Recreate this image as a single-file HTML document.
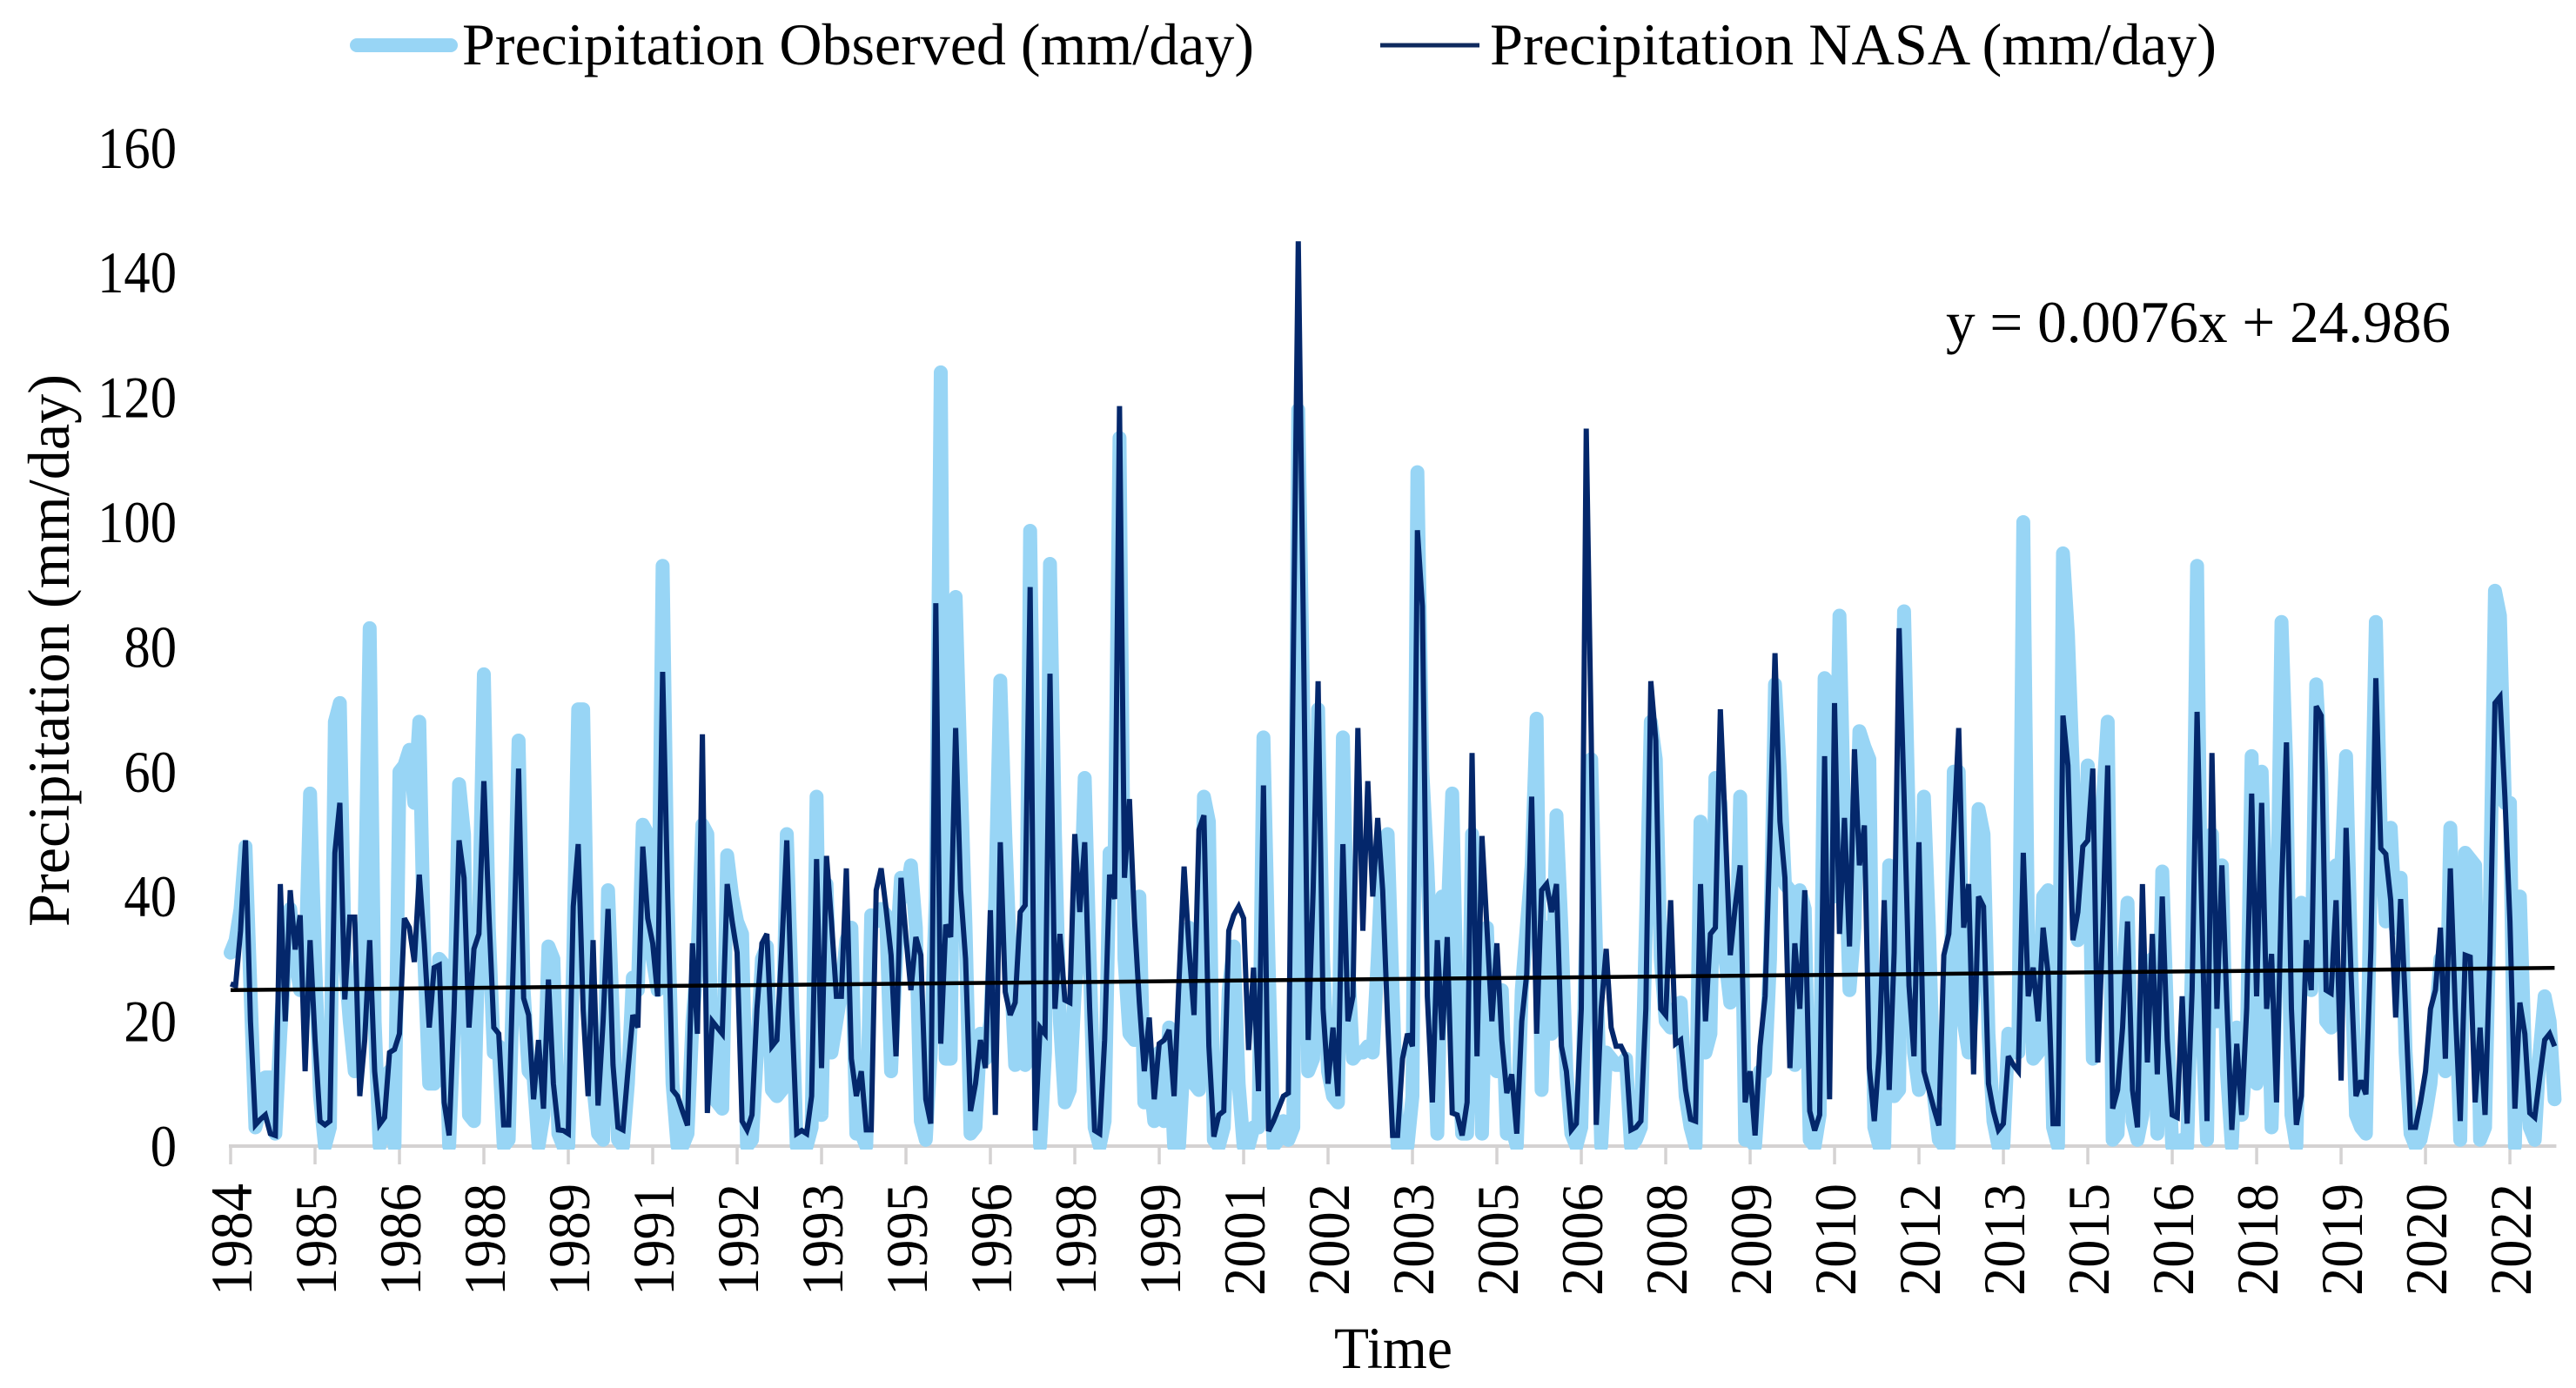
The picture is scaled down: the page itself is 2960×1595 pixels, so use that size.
<!DOCTYPE html>
<html lang="en">
<head>
<meta charset="utf-8">
<title>Precipitation Observed vs NASA</title>
<style>
html,body{margin:0;padding:0;background:#fff;}
svg{display:block;}
text{font-family:"Liberation Serif",serif;fill:#000;}
</style>
</head>
<body>
<svg id="chart" xmlns="http://www.w3.org/2000/svg" width="2960" height="1595" viewBox="0 0 2960 1595">
  <defs>
    <clipPath id="plot-clip"><rect x="200" y="60" width="2760" height="1261"></rect></clipPath>
  </defs>
  <g id="axes"></g>
  <g id="series" clip-path="url(#plot-clip)"></g>
  <g>
    <line x1="410" y1="52" x2="518" y2="52" stroke="#98d5f5" stroke-width="16" stroke-linecap="round"></line>
    <text x="531" y="74" font-size="68" textLength="910" lengthAdjust="spacingAndGlyphs">Precipitation Observed (mm/day)</text>
    <line x1="1586" y1="52" x2="1700" y2="52" stroke="#0f2a5e" stroke-width="5"></line>
    <text x="1712" y="74" font-size="68" textLength="835" lengthAdjust="spacingAndGlyphs">Precipitation NASA (mm/day)</text>
  </g>
  <text x="2236" y="393" font-size="68" textLength="580" lengthAdjust="spacingAndGlyphs">y = 0.0076x + 24.986</text>
  <text x="1533" y="1572" font-size="68" textLength="136" lengthAdjust="spacingAndGlyphs">Time</text>
  <text transform="translate(79,1065) rotate(-90)" x="0" y="0" font-size="68" textLength="635" lengthAdjust="spacingAndGlyphs">Precipitation (mm/day)</text>
</svg>
<script>
var observedValues = [
31,33,38,48,25,3,6,11,11,2,
18,30,38,30,25,27,56.5,30,8,0,
3,68,71,30,20,12,30,36,83,20,
0,3,12,0,60,61,63.5,55,68,30,
10,10,30,29,0,20,58,50,5,4,
35,75.6,35,15,16,0,1,30,65,25,
12,11,0,5,32,30,2,0,0,30,
70,70,25,10,2,1,41,20,1,0,
10,27,25,51.5,50,30,25,93,40,10,
0,0,2,20,30,51.5,50,8,7,6,
46.6,40,36,34,0,1,15,30,32,9,
8,9,50,25,0,0,0,3,56,5,
42,15,20,25,33,35,2,2,0,37,
36,38,37,12,30,43,40,45,35,4,
1,15,40,124,14,14,88,60,35,2,
3,18,14,20,40,74.6,50,30,13,15,
13,98.6,45,0,15,93.3,50,20,7,9,
25,35,59,30,3,0,4,47,45,113.5,
30,18,17,40,7,12,4,15,4,19,
0,0,15,35,10,9,56,52,1,0,
3,25,32,10,0,0,3,3,65.5,30,
0,1,4,1,3,118,70,12,14,70,
30,12,8,7,65.5,30,14,15,15,16,
15,30,48,50,25,0,0,0,8,108,
60,45,25,2,40,35,56.5,20,2,2,
50,30,2,35,13,12,25,2,3,0,
25,35,45,68.5,9,35,18,53,35,12,
2,0,3,35,62,30,0,15,14,13,
13,14,0,1,3,35,68,62,30,20,
19,22,23,8,3,0,52,15,18,59,
55,30,23,24,56,1,1,0,12,12,
30,74,60,42,41,13,41,38,1,0,
5,75,74,40,85,50,25,35,66.5,64,
62,3,0,0,45,8,9,85.7,50,15,
9,56,35,8,1,0,0,60,60,20,
15,25,54,50,18,4,0,0,18,15,
15,100,30,14,15,40,41,3,0,95,
82,60,33,35,61,14,40,55,68,1,
2,25,39,4,1,5,25,30,2,44,
20,0,0,1,0,30,93,20,1,50,
20,45,12,0,19,5,15,62.5,10,60,
35,3,30,84,60,5,0,39,35,25,
74,60,20,19,45,44,62.5,30,5,3,
2,45,84,50,36,51,35,43,15,2,
0,1,5,10,20,30,12,51,25,1,
47,46,45,1,3,40,89,85,55,55,
0,40,15,3,1,15,24,20,7.5
];
var nasaValues = [
26,25.7,34.5,49,20,3.4,4.3,5,2,1.7,
42,20,41,31.5,37,12,33,17,4,3.4,
4,47,55,23.5,36.7,36.7,8,17,33,12,
3.5,4.6,15,15.5,18,36.5,35,29.5,43.5,32.5,
19,28.6,29,7,1.7,22,49,43,19,31.6,
34,58.5,37.5,19,18,3.4,3.4,31.6,60.5,23.7,
21,7.5,17,6,26.7,10,2.6,2.5,2,38.4,
48.4,21.8,8,33,6.5,20,38,13,3,2.6,
12,21,19,48,36.5,32.5,24,76,41,9,
8,5.6,3.3,32.5,18,66,5.3,20,19,18,
42,36,31,4,2.6,5,22,32.5,34,16,
17,32,49,22,2,2.5,2,8,46,12.5,
46.5,36,24,24,44.5,14,8,12,2.6,2.6,
41,44.5,38,30.6,14.4,43,33.5,25,33.5,30.6,
7.5,3.6,87,16.4,35.5,33.5,67,41,30,
5.6,10,17,12.5,37.8,5,48.7,24.7,21,23,
37.5,38.6,89.6,2.5,19,18,75.7,22,34,23.4,
23,50,37.5,48.7,22,2.5,2,17,43.5,39.6,
118.6,43,55.6,36.5,23,12,20.6,7.5,16.4,17,
18.6,8,26.7,44.8,31.6,21,50.7,53,16,1.5,
5,5.6,34.5,37,38.4,36.5,15.4,28.6,8.8,57.8,
2.4,4,6,8,8.5,78,145,85,17,41,
74.5,22,10,19,8,48.4,20,24,67,34.5,
58.5,40,52.6,41,20,1.7,1.7,14,18,16,
98.7,86.5,24,7,33,17,33.5,5.3,5,1.7,
7,63,14.4,49.7,35,20,32.5,17,8.5,11.5,
2,20,27.6,56,18,41,42,37.5,42,16,
12,2.6,3.6,22,115,66,3.4,22,31.6,19,
16,16,14.4,2.6,3,4,22,74.5,65,22,
21,39.4,16.4,17,9,4.3,4,42,20,34,
35,70,51,30.6,38.4,45,7,12,1.7,16,
24,50,79,52,43,12.5,32.5,22,41,5.6,
2.5,5,62.5,7.5,71,34,52.6,32,63.6,45,
51.4,12.5,4,15,39.4,9,31,83,56,25.7,
14.4,48.7,12,9,6,3.3,30.6,34,50,67,35,
42,11.5,40,38.4,10,5.6,2.6,3.6,14.4,13,
12,47,24,28.6,20,35,27.6,3.6,3.6,69,
61,33,37.5,48,49,60.5,13.4,35,61,6,
9,19,36,9,3,42,13.4,34,11.5,40,
17,5,4.6,24,3.6,25,69.6,36,4,63,
22,45,23,2.6,16.4,5,22,56.5,24,55,
22,30.8,7,41,64.7,22,3.4,8,33,25,
70.5,69,25,24.5,39.4,10.5,51,27.6,8,10.5,
8.3,31.6,75,47.7,46.8,39.4,20.6,39.6,22,3,
3,7,12,22,25,35,14,44.5,22,4,
30.6,30.3,7,19,5,31,71,72,56,36,
6,23,18,5.3,4.6,11,17,18,16
];
var xTickLabels = ["1984","1985","1986","1988","1989","1991","1992","1993","1995","1996","1998","1999","2001","2002","2003","2005","2006","2008","2009","2010","2012","2013","2015","2016","2018","2019","2020","2022"];
var yTickValues = [0,20,40,60,80,100,120,140,160];
var trendSlope = [0.0076];
var trendIntercept = [24.986];
var monthsPerTick = 17;

var NS = "http://www.w3.org/2000/svg";
var axesGroup = document.getElementById("axes");
var seriesGroup = document.getElementById("series");
var plotLeft = 265, monthWidth = 5.706, plotBottom = 1317, unitHeight = 7.17;

function xScale(i){ return plotLeft + i * monthWidth; }
function yScale(v){ return plotBottom - v * unitHeight; }
function toPoints(values){
  return values.map(function(v,i){ return xScale(i).toFixed(1) + "," + yScale(v).toFixed(1); }).join(" ");
}

var lastIndex = Math.max(observedValues.length, nasaValues.length) - 1;

var axisLine = document.createElementNS(NS,"line");


axisLine.setAttribute("x1", xScale(0) - 2);
axisLine.setAttribute("x2", xScale(lastIndex) + 2);
axisLine.setAttribute("y1", plotBottom);
axisLine.setAttribute("y2", plotBottom);
axisLine.setAttribute("stroke", "#d4d2d2");
axisLine.setAttribute("stroke-width", "4");
axesGroup.appendChild(axisLine);

xTickLabels.forEach(function(label,i){
  var tx = xScale(i * monthsPerTick);
  var tick = document.createElementNS(NS,"line");
  
  
  tick.setAttribute("x1", tx);
  tick.setAttribute("x2", tx);
  tick.setAttribute("y1", plotBottom);
  tick.setAttribute("y2", 1338);
  tick.setAttribute("stroke", "#d4d2d2");
  tick.setAttribute("stroke-width", "3.5");
  axesGroup.appendChild(tick);
  var text = document.createElementNS(NS,"text");
  
  
  text.setAttribute("transform", "translate(" + (tx + 24) + ",1489) rotate(-90)");
  text.setAttribute("font-size", "68");
  text.setAttribute("textLength", "129");
  text.setAttribute("lengthAdjust", "spacingAndGlyphs");
  text.textContent = label;
  axesGroup.appendChild(text);
});

yTickValues.forEach(function(v){
  var text = document.createElementNS(NS,"text");
  
  
  var s = String(v);
  text.setAttribute("x", 203);
  text.setAttribute("y", yScale(v) + 23);
  text.setAttribute("text-anchor", "end");
  text.setAttribute("font-size", "68");
  text.setAttribute("textLength", s.length * 30.3);
  text.setAttribute("lengthAdjust", "spacingAndGlyphs");
  text.textContent = s;
  axesGroup.appendChild(text);
});

var observedLine = document.createElementNS(NS,"polyline");


observedLine.setAttribute("points", toPoints(observedValues));
observedLine.setAttribute("fill", "none");
observedLine.setAttribute("stroke", "#98d5f5");
observedLine.setAttribute("stroke-width", "16");
observedLine.setAttribute("stroke-linejoin", "round");
observedLine.setAttribute("stroke-linecap", "round");
seriesGroup.appendChild(observedLine);

var nasaLine = document.createElementNS(NS,"polyline");


nasaLine.setAttribute("points", toPoints(nasaValues));
nasaLine.setAttribute("fill", "none");
nasaLine.setAttribute("stroke", "#04276b");
nasaLine.setAttribute("stroke-width", "6");
nasaLine.setAttribute("stroke-linejoin", "miter");
nasaLine.setAttribute("stroke-miterlimit", "3");
seriesGroup.appendChild(nasaLine);

var trendLine = document.createElementNS(NS,"line");


trendLine.setAttribute("x1", xScale(0));
trendLine.setAttribute("y1", yScale(trendSlope[0] * 1 + trendIntercept[0]));
trendLine.setAttribute("x2", xScale(lastIndex));
trendLine.setAttribute("y2", yScale(trendSlope[0] * (lastIndex + 1) + trendIntercept[0]));
trendLine.setAttribute("stroke", "#000");
trendLine.setAttribute("stroke-width", "4.5");
seriesGroup.appendChild(trendLine);
</script>
</body>
</html>
